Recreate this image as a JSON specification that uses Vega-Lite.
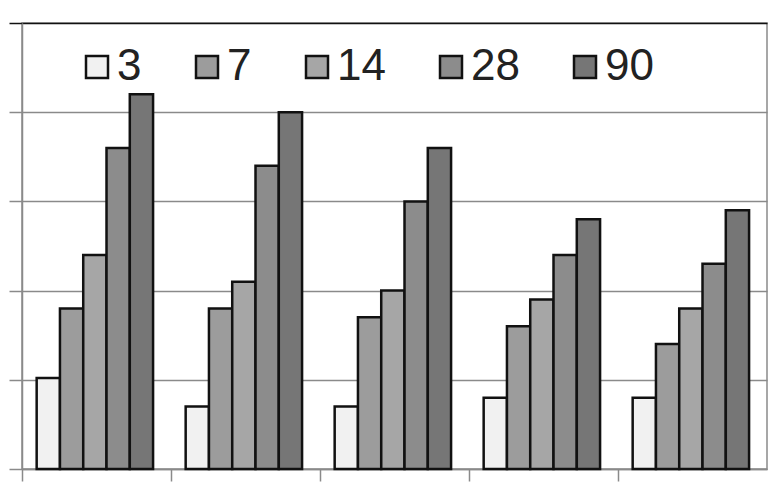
{
  "$schema": "https://vega.github.io/schema/vega-lite/v6.json",
  "width": 745,
  "height": 446,
  "padding": {"left": 8, "top": 22, "right": 3, "bottom": 0},
  "background": "white",
  "config": {
    "view": {"stroke": "#8a8a8a", "strokeWidth": 1.5},
    "font": "Liberation Sans"
  },
  "data": {
    "values": [
      {"group": "G1", "day": "3", "value": 10.2},
      {"group": "G1", "day": "7", "value": 18},
      {"group": "G1", "day": "14", "value": 24},
      {"group": "G1", "day": "28", "value": 36},
      {"group": "G1", "day": "90", "value": 42},
      {"group": "G2", "day": "3", "value": 7},
      {"group": "G2", "day": "7", "value": 18},
      {"group": "G2", "day": "14", "value": 21},
      {"group": "G2", "day": "28", "value": 34},
      {"group": "G2", "day": "90", "value": 40},
      {"group": "G3", "day": "3", "value": 7},
      {"group": "G3", "day": "7", "value": 17},
      {"group": "G3", "day": "14", "value": 20},
      {"group": "G3", "day": "28", "value": 30},
      {"group": "G3", "day": "90", "value": 36},
      {"group": "G4", "day": "3", "value": 8},
      {"group": "G4", "day": "7", "value": 16},
      {"group": "G4", "day": "14", "value": 19},
      {"group": "G4", "day": "28", "value": 24},
      {"group": "G4", "day": "90", "value": 28},
      {"group": "G5", "day": "3", "value": 8},
      {"group": "G5", "day": "7", "value": 14},
      {"group": "G5", "day": "14", "value": 18},
      {"group": "G5", "day": "28", "value": 23},
      {"group": "G5", "day": "90", "value": 29}
    ]
  },
  "mark": {"type": "bar", "stroke": "#111", "strokeWidth": 2.5, "opacity": 1},
  "encoding": {
    "x": {
      "field": "group",
      "type": "nominal",
      "scale": {"paddingInner": 0, "paddingOuter": 0},
      "axis": {
        "title": null,
        "labels": false,
        "bandPosition": 0,
        "tickSize": 12,
        "tickColor": "#8a8a8a",
        "tickWidth": 1.5,
        "domainColor": "#8a8a8a",
        "domainWidth": 1.5,
        "grid": false
      }
    },
    "xOffset": {
      "field": "day",
      "type": "nominal",
      "sort": ["3", "7", "14", "28", "90"],
      "scale": {"paddingInner": 0, "paddingOuter": 0.7, "align": 0.45}
    },
    "y": {
      "field": "value",
      "type": "quantitative",
      "scale": {"domain": [0, 50], "nice": false, "zero": true},
      "axis": {
        "title": null,
        "labels": false,
        "values": [0, 10, 20, 30, 40, 50],
        "tickSize": 13,
        "tickColor": {"condition": {"test": "datum.value === 50", "value": "#111"}, "value": "#8a8a8a"},
        "tickWidth": 1.5,
        "domainColor": "#8a8a8a",
        "domainWidth": 1.5,
        "grid": true,
        "gridColor": {"condition": {"test": "datum.value === 50", "value": "#111"}, "value": "#8a8a8a"},
        "gridWidth": 1.5
      }
    },
    "fill": {
      "field": "day",
      "type": "nominal",
      "sort": ["3", "7", "14", "28", "90"],
      "scale": {
        "domain": ["3", "7", "14", "28", "90"],
        "range": ["#f1f1f1", "#9c9c9c", "#a6a6a6", "#8c8c8c", "#767676"]
      },
      "legend": {
        "title": null,
        "orient": "none",
        "legendX": 53,
        "legendY": 22,
        "direction": "horizontal",
        "columns": 5,
        "symbolType": "square",
        "symbolSize": 484,
        "symbolStrokeColor": "#111",
        "symbolStrokeWidth": 2.5,
        "symbolOpacity": 1,
        "labelFontSize": 44,
        "labelFont": "Liberation Sans",
        "labelColor": "#222",
        "labelOffset": -2,
        "columnPadding": 43,
        "labelLimit": 200
      }
    }
  }
}
